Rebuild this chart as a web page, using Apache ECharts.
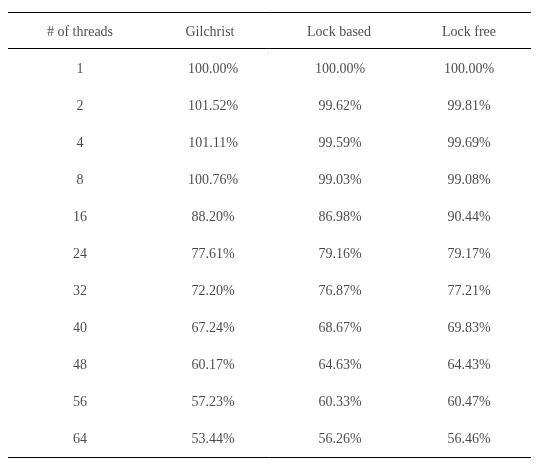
<!DOCTYPE html>
<html><head><meta charset="utf-8">
<script src="https://cdn.jsdelivr.net/npm/echarts@6/dist/echarts.min.js"></script>
<style>html,body{margin:0;padding:0;background:#fff}#c{width:539px;height:465px}</style>
</head><body><div id="c"></div>
<script>
const headers = ['# of threads', 'Gilchrist', 'Lock based', 'Lock free'];
const threads = ['1','2','4','8','16','24','32','40','48','56','64'];
const gilchrist = ['100.00%','101.52%','101.11%','100.76%','88.20%','77.61%','72.20%','67.24%','60.17%','57.23%','53.44%'];
const lockBased = ['100.00%','99.62%','99.59%','99.03%','86.98%','79.16%','76.87%','68.67%','64.63%','60.33%','56.26%'];
const lockFree = ['100.00%','99.81%','99.69%','99.08%','90.44%','79.17%','77.21%','69.83%','64.43%','60.47%','56.46%'];

const colX = [80, 210, 339, 469];
const dataColX = [80, 213, 340, 469];
const headerY = 32, firstY = 69, rowH = 37.0;
const cols = [threads, gilchrist, lockBased, lockFree];
const pts = [];
headers.forEach((h, c) => pts.push({value: [colX[c], headerY], name: h}));
cols.forEach((arr, c) => arr.forEach((v, r) => pts.push({value: [dataColX[c], firstY + rowH * r], name: v})));

const chart = echarts.init(document.getElementById('c'));
chart.setOption({
  animation: false,
  grid: {left: 0, right: 0, top: 0, bottom: 0},
  xAxis: {type: 'value', min: 0, max: 539, show: false},
  yAxis: {type: 'value', min: 0, max: 465, inverse: true, show: false},
  graphic: [
    {type: 'line', shape: {x1: 8, y1: 12.5, x2: 531, y2: 12.5}, style: {stroke: '#000', lineWidth: 1}},
    {type: 'line', shape: {x1: 8, y1: 48.5, x2: 531, y2: 48.5}, style: {stroke: '#000', lineWidth: 1}},
    {type: 'line', shape: {x1: 8, y1: 457.5, x2: 531, y2: 457.5}, style: {stroke: '#000', lineWidth: 1}}
  ],
  series: [{
    type: 'scatter', symbolSize: 0, data: pts,
    label: {show: true, position: 'inside', formatter: p => p.name,
      fontFamily: 'Liberation Serif', fontSize: 14, color: '#1a1a1a'}
  }]
});
</script></body></html>
